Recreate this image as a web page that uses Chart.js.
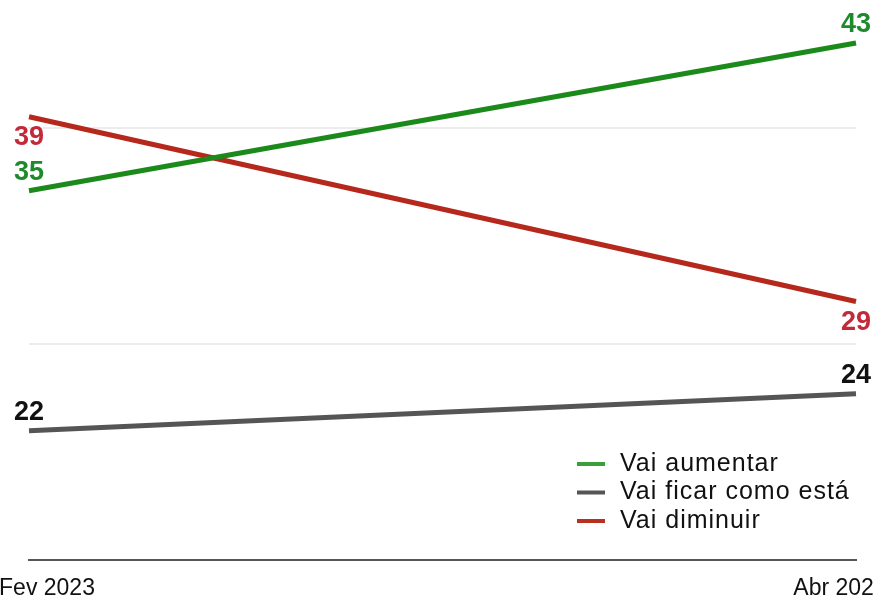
<!DOCTYPE html>
<html>
<head>
<meta charset="utf-8">
<script src="https://cdn.jsdelivr.net/npm/chart.js@4/dist/chart.umd.min.js"></script>
<style>
    html, body { margin: 0; padding: 0; background: #fff; }
    #wrap { width: 875px; height: 597px; }
</style>
</head>
<body>
<div id="wrap"><canvas id="outlookChart" width="875" height="597"></canvas></div>
<script>
// Data
const periods = ["Fev 2023", "Abr 2023"];
const seriesNames = ["Vai aumentar", "Vai ficar como está", "Vai diminuir"];
const aumentar = [35, 43];
const ficar = [22, 24];
const diminuir = [39, 29];
const gridValues = [26.7, 38.4];
const yMin = 15;
const yMax = 45;

const FONT = '"Liberation Sans", Arial, Helvetica, sans-serif';

// line colour, label colour, legend swatch colour, label below the point?
const styles = [
    { line: "#1b8a1b", label: "#1f8a2c", swatch: "#3a9e3a", below: false },
    { line: "#555555", label: "#111111", swatch: "#555555", below: false },
    { line: "#b5281b", label: "#c22a3a", swatch: "#b83020", below: true },
];

// ✅ Value labels at both ends of every line
const endLabels = {
    id: "endLabels",
    afterDatasetsDraw(chart) {
        const ctx = chart.ctx;
        ctx.save();
        ctx.font = "bold 27px " + FONT;
        ctx.textAlign = "center";
        ctx.textBaseline = "middle";
        chart.data.datasets.forEach((ds, i) => {
            const meta = chart.getDatasetMeta(i);
            const st = styles[i];
            ctx.fillStyle = st.label;
            [0, meta.data.length - 1].forEach((idx) => {
                const pt = meta.data[idx];
                const dy = st.below ? 21 : -18;
                ctx.fillText(String(ds.data[idx]), pt.x, pt.y + dy);
            });
        });
        ctx.restore();
    }
};

// ✅ Period labels under the baseline (pulled a bit inward like the original)
const periodLabels = {
    id: "periodLabels",
    afterDraw(chart) {
        const ctx = chart.ctx;
        const x = chart.scales.x;
        const area = chart.chartArea;
        ctx.save();
        ctx.font = "23px " + FONT;
        ctx.fillStyle = "#111";
        ctx.textAlign = "center";
        ctx.textBaseline = "alphabetic";
        periods.forEach((label, i) => {
            const px = x.getPixelForValue(i);
            const shift = i === 0 ? 18 : -16;
            ctx.fillText(label, px + shift, area.bottom + 35);
        });
        ctx.restore();
    }
};

// ✅ Legend inside the plot, bottom right
const insideLegend = {
    id: "insideLegend",
    afterDraw(chart) {
        const ctx = chart.ctx;
        const area = chart.chartArea;
        const left = area.right - 279;
        const top = area.bottom - 96;
        const rowH = 28.5;
        ctx.save();
        ctx.font = "25px " + FONT;
        ctx.letterSpacing = "1px";
        ctx.textBaseline = "middle";
        ctx.textAlign = "left";
        chart.data.datasets.forEach((ds, i) => {
            const y = top + i * rowH;
            ctx.strokeStyle = styles[i].swatch;
            ctx.lineWidth = 4;
            ctx.beginPath();
            ctx.moveTo(left, y);
            ctx.lineTo(left + 28, y);
            ctx.stroke();
            ctx.fillStyle = "#111";
            ctx.fillText(ds.label, left + 43, y);
        });
        ctx.restore();
    }
};

const ctx = document.getElementById("outlookChart").getContext("2d");
new Chart(ctx, {
    type: "line",
    data: {
        labels: periods,
        datasets: [aumentar, ficar, diminuir].map((values, i) => ({
            label: seriesNames[i],
            data: values,
            borderColor: styles[i].line,
            backgroundColor: styles[i].line,
            borderWidth: 5,
            borderCapStyle: "butt",
            pointRadius: 0,
            tension: 0,
            clip: false,
        })),
    },
    options: {
        responsive: false,
        animation: false,
        layout: { padding: { left: 29, right: 19, top: 6, bottom: 37 } },
        scales: {
            x: {
                offset: false,
                grid: { display: false, drawTicks: false },
                ticks: { display: false },
                border: { display: true, color: "#555", width: 2 },
            },
            y: {
                min: yMin,
                max: yMax,
                afterBuildTicks: (axis) => { axis.ticks = gridValues.map(v => ({ value: v })); },
                ticks: { display: false },
                grid: { color: "#ececec", lineWidth: 2, drawTicks: false },
                border: { display: false },
            },
        },
        plugins: {
            legend: { display: false },
            tooltip: { enabled: false },
        },
    },
    plugins: [endLabels, periodLabels, insideLegend],
});
</script>
</body>
</html>
